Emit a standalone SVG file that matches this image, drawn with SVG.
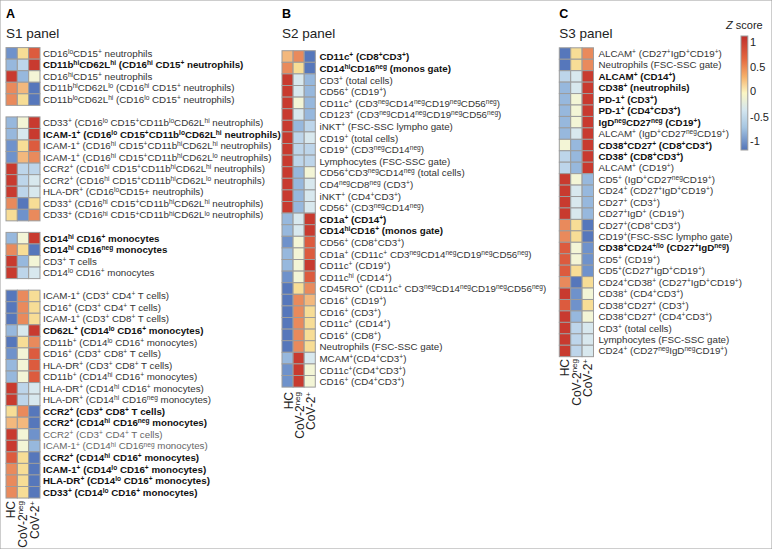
<svg xmlns="http://www.w3.org/2000/svg" width="772" height="549" viewBox="0 0 772 549">
<defs>
<style>
.t{font-family:"Liberation Sans",Arial,sans-serif;font-size:9.75px;fill:#333}
.bd{font-weight:bold;fill:#111}
.gr{fill:#666}
.u{font-size:6.6px;baseline-shift:3.3px}
.ttl{font-family:"Liberation Sans",Arial,sans-serif;font-size:12.5px;font-weight:bold;fill:#000}
.pn{font-family:"Liberation Sans",Arial,sans-serif;font-size:13.5px;fill:#222}
.cl{font-family:"Liberation Sans",Arial,sans-serif;font-size:12px;fill:#222}
.cu{font-size:8px;baseline-shift:4.5px}
.zl{font-family:"Liberation Sans",Arial,sans-serif;font-size:11px;fill:#222}
rect{stroke:#9c9c9c;stroke-width:1}
.r5{fill:#c83a2f}.r4{fill:#dc5b3e}.r3{fill:#e98a5c}.r2{fill:#f3b87d}.r1{fill:#f7dd96}
.n0{fill:#f3f5d6}.b1{fill:#d8e8ee}.b2{fill:#bdd5ea}.b3{fill:#97b8dd}.b4{fill:#6f92cb}.b5{fill:#5677bb}
</style>
<linearGradient id="zg" x1="0" y1="0" x2="0" y2="1">
<stop offset="0" stop-color="#bf2f2c"/>
<stop offset="0.2" stop-color="#e4673f"/>
<stop offset="0.36" stop-color="#f6b26b"/>
<stop offset="0.5" stop-color="#fbf6c4"/>
<stop offset="0.65" stop-color="#d4e6ef"/>
<stop offset="0.8" stop-color="#a6c6e2"/>
<stop offset="1" stop-color="#5374b8"/>
</linearGradient>
</defs>
<rect x="0" y="0" width="772" height="549" fill="#fff" stroke="none"/>

<g id="panelA">
<text class="ttl" x="6" y="18">A</text>
<text class="pn" x="6" y="37.5">S1 panel</text>
<g transform="translate(0,47.6)"><rect x="6" width="11.33" height="11.55" class="b4"/><rect x="17.33" width="11.33" height="11.55" class="r1"/><rect x="28.66" width="11.33" height="11.55" class="r4"/><text class="t" x="43" y="9.2">CD16<tspan class="u">lo</tspan>CD15<tspan class="u">+</tspan> neutrophils</text></g>
<g transform="translate(0,59.15)"><rect x="6" width="11.33" height="11.55" class="b3"/><rect x="17.33" width="11.33" height="11.55" class="b2"/><rect x="28.66" width="11.33" height="11.55" class="r5"/><text class="t bd" x="43" y="9.2">CD11b<tspan class="u">hi</tspan>CD62L<tspan class="u">hi</tspan> (CD16<tspan class="u">hi</tspan> CD15<tspan class="u">+</tspan> neutrophils)</text></g>
<g transform="translate(0,70.7)"><rect x="6" width="11.33" height="11.55" class="r5"/><rect x="17.33" width="11.33" height="11.55" class="b3"/><rect x="28.66" width="11.33" height="11.55" class="n0"/><text class="t" x="43" y="9.2">CD16<tspan class="u">hi</tspan>CD15<tspan class="u">+</tspan> neutrophils</text></g>
<g transform="translate(0,82.25)"><rect x="6" width="11.33" height="11.55" class="r3"/><rect x="17.33" width="11.33" height="11.55" class="r2"/><rect x="28.66" width="11.33" height="11.55" class="b5"/><text class="t" x="43" y="9.2">CD11b<tspan class="u">hi</tspan>CD62L<tspan class="u">lo</tspan> (CD16<tspan class="u">hi</tspan> CD15<tspan class="u">+</tspan> neutrophils)</text></g>
<g transform="translate(0,93.8)"><rect x="6" width="11.33" height="11.55" class="r3"/><rect x="17.33" width="11.33" height="11.55" class="r1"/><rect x="28.66" width="11.33" height="11.55" class="b5"/><text class="t" x="43" y="9.2">CD11b<tspan class="u">lo</tspan>CD62L<tspan class="u">hi</tspan> (CD16<tspan class="u">lo</tspan> CD15<tspan class="u">+</tspan> neutrophils)</text></g>

<g transform="translate(0,116.9)"><rect x="6" width="11.33" height="11.55" class="b3"/><rect x="17.33" width="11.33" height="11.55" class="n0"/><rect x="28.66" width="11.33" height="11.55" class="r5"/><text class="t" x="43" y="9.2">CD33<tspan class="u">+</tspan> (CD16<tspan class="u">lo</tspan> CD15<tspan class="u">+</tspan>CD11b<tspan class="u">lo</tspan>CD62L<tspan class="u">hi</tspan> neutrophils)</text></g>
<g transform="translate(0,128.45)"><rect x="6" width="11.33" height="11.55" class="b3"/><rect x="17.33" width="11.33" height="11.55" class="b1"/><rect x="28.66" width="11.33" height="11.55" class="r5"/><text class="t bd" x="43" y="9.2">ICAM-1<tspan class="u">+</tspan> (CD16<tspan class="u">lo</tspan> CD15<tspan class="u">+</tspan>CD11b<tspan class="u">lo</tspan>CD62L<tspan class="u">hi</tspan> neutrophils)</text></g>
<g transform="translate(0,140)"><rect x="6" width="11.33" height="11.55" class="b4"/><rect x="17.33" width="11.33" height="11.55" class="r1"/><rect x="28.66" width="11.33" height="11.55" class="r4"/><text class="t" x="43" y="9.2">ICAM-1<tspan class="u">+</tspan> (CD16<tspan class="u">hi</tspan> CD15<tspan class="u">+</tspan>CD11b<tspan class="u">hi</tspan>CD62L<tspan class="u">hi</tspan> neutrophils)</text></g>
<g transform="translate(0,151.55)"><rect x="6" width="11.33" height="11.55" class="b4"/><rect x="17.33" width="11.33" height="11.55" class="r2"/><rect x="28.66" width="11.33" height="11.55" class="r3"/><text class="t" x="43" y="9.2">ICAM-1<tspan class="u">+</tspan> (CD16<tspan class="u">hi</tspan> CD15<tspan class="u">+</tspan>CD11b<tspan class="u">hi</tspan>CD62L<tspan class="u">lo</tspan> neutrophils)</text></g>
<g transform="translate(0,163.1)"><rect x="6" width="11.33" height="11.55" class="r5"/><rect x="17.33" width="11.33" height="11.55" class="b2"/><rect x="28.66" width="11.33" height="11.55" class="b2"/><text class="t" x="43" y="9.2">CCR2<tspan class="u">+</tspan> (CD16<tspan class="u">hi</tspan> CD15<tspan class="u">+</tspan>CD11b<tspan class="u">hi</tspan>CD62L<tspan class="u">hi</tspan> neutrophils)</text></g>
<g transform="translate(0,174.65)"><rect x="6" width="11.33" height="11.55" class="r5"/><rect x="17.33" width="11.33" height="11.55" class="b2"/><rect x="28.66" width="11.33" height="11.55" class="b1"/><text class="t" x="43" y="9.2">CCR2<tspan class="u">+</tspan> (CD16<tspan class="u">hi</tspan> CD15<tspan class="u">+</tspan>CD11b<tspan class="u">hi</tspan>CD62L<tspan class="u">lo</tspan> neutrophils)</text></g>
<g transform="translate(0,186.2)"><rect x="6" width="11.33" height="11.55" class="r5"/><rect x="17.33" width="11.33" height="11.55" class="b2"/><rect x="28.66" width="11.33" height="11.55" class="b1"/><text class="t" x="43" y="9.2">HLA-DR<tspan class="u">+</tspan> (CD16<tspan class="u">lo</tspan>CD15+ neutrophils)</text></g>
<g transform="translate(0,197.75)"><rect x="6" width="11.33" height="11.55" class="r3"/><rect x="17.33" width="11.33" height="11.55" class="b5"/><rect x="28.66" width="11.33" height="11.55" class="r1"/><text class="t" x="43" y="9.2">CD33<tspan class="u">+</tspan> (CD16<tspan class="u">hi</tspan> CD15<tspan class="u">+</tspan>CD11b<tspan class="u">hi</tspan>CD62L<tspan class="u">hi</tspan> neutrophils)</text></g>
<g transform="translate(0,209.3)"><rect x="6" width="11.33" height="11.55" class="r1"/><rect x="17.33" width="11.33" height="11.55" class="b4"/><rect x="28.66" width="11.33" height="11.55" class="r3"/><text class="t" x="43" y="9.2">CD33<tspan class="u">+</tspan> (CD16<tspan class="u">hi</tspan> CD15<tspan class="u">+</tspan>CD11b<tspan class="u">hi</tspan>CD62L<tspan class="u">lo</tspan> neutrophils)</text></g>

<g transform="translate(0,232.4)"><rect x="6" width="11.33" height="11.55" class="b3"/><rect x="17.33" width="11.33" height="11.55" class="n0"/><rect x="28.66" width="11.33" height="11.55" class="r5"/><text class="t bd" x="43" y="9.2">CD14<tspan class="u">hi</tspan> CD16<tspan class="u">+</tspan> monocytes</text></g>
<g transform="translate(0,243.95)"><rect x="6" width="11.33" height="11.55" class="r3"/><rect x="17.33" width="11.33" height="11.55" class="r1"/><rect x="28.66" width="11.33" height="11.55" class="b5"/><text class="t bd" x="43" y="9.2">CD14<tspan class="u">hi</tspan> CD16<tspan class="u">neg</tspan> monocytes</text></g>
<g transform="translate(0,255.5)"><rect x="6" width="11.33" height="11.55" class="r5"/><rect x="17.33" width="11.33" height="11.55" class="b3"/><rect x="28.66" width="11.33" height="11.55" class="n0"/><text class="t" x="43" y="9.2">CD3<tspan class="u">+</tspan> T cells</text></g>
<g transform="translate(0,267.05)"><rect x="6" width="11.33" height="11.55" class="r5"/><rect x="17.33" width="11.33" height="11.55" class="b2"/><rect x="28.66" width="11.33" height="11.55" class="b1"/><text class="t" x="43" y="9.2">CD14<tspan class="u">lo</tspan> CD16<tspan class="u">+</tspan> monocytes</text></g>

<g transform="translate(0,290.15)"><rect x="6" width="11.33" height="11.55" class="b5"/><rect x="17.33" width="11.33" height="11.55" class="r3"/><rect x="28.66" width="11.33" height="11.55" class="r1"/><text class="t" x="43" y="9.2">ICAM-1<tspan class="u">+</tspan> (CD3<tspan class="u">+</tspan> CD4<tspan class="u">+</tspan> T cells)</text></g>
<g transform="translate(0,301.7)"><rect x="6" width="11.33" height="11.55" class="b5"/><rect x="17.33" width="11.33" height="11.55" class="r3"/><rect x="28.66" width="11.33" height="11.55" class="r1"/><text class="t" x="43" y="9.2">CD16<tspan class="u">+</tspan> (CD3<tspan class="u">+</tspan> CD4<tspan class="u">+</tspan> T cells)</text></g>
<g transform="translate(0,313.25)"><rect x="6" width="11.33" height="11.55" class="b5"/><rect x="17.33" width="11.33" height="11.55" class="r3"/><rect x="28.66" width="11.33" height="11.55" class="r1"/><text class="t" x="43" y="9.2">ICAM-1<tspan class="u">+</tspan> (CD3<tspan class="u">+</tspan> CD8<tspan class="u">+</tspan> T cells)</text></g>
<g transform="translate(0,324.8)"><rect x="6" width="11.33" height="11.55" class="b3"/><rect x="17.33" width="11.33" height="11.55" class="b1"/><rect x="28.66" width="11.33" height="11.55" class="r5"/><text class="t bd" x="43" y="9.2">CD62L<tspan class="u">+</tspan> (CD14<tspan class="u">lo</tspan> CD16<tspan class="u">+</tspan> monocytes)</text></g>
<g transform="translate(0,336.35)"><rect x="6" width="11.33" height="11.55" class="b5"/><rect x="17.33" width="11.33" height="11.55" class="r1"/><rect x="28.66" width="11.33" height="11.55" class="r3"/><text class="t" x="43" y="9.2">CD11b<tspan class="u">+</tspan> (CD14<tspan class="u">lo</tspan> CD16<tspan class="u">+</tspan> monocytes)</text></g>
<g transform="translate(0,347.9)"><rect x="6" width="11.33" height="11.55" class="b4"/><rect x="17.33" width="11.33" height="11.55" class="n0"/><rect x="28.66" width="11.33" height="11.55" class="r4"/><text class="t" x="43" y="9.2">CD16<tspan class="u">+</tspan> (CD3<tspan class="u">+</tspan> CD8<tspan class="u">+</tspan> T cells)</text></g>
<g transform="translate(0,359.45)"><rect x="6" width="11.33" height="11.55" class="b3"/><rect x="17.33" width="11.33" height="11.55" class="n0"/><rect x="28.66" width="11.33" height="11.55" class="r4"/><text class="t" x="43" y="9.2">HLA-DR<tspan class="u">+</tspan> (CD3<tspan class="u">+</tspan> CD8<tspan class="u">+</tspan> T cells)</text></g>
<g transform="translate(0,371)"><rect x="6" width="11.33" height="11.55" class="b3"/><rect x="17.33" width="11.33" height="11.55" class="n0"/><rect x="28.66" width="11.33" height="11.55" class="r4"/><text class="t" x="43" y="9.2">CD11b<tspan class="u">+</tspan> (CD14<tspan class="u">hi</tspan> CD16<tspan class="u">+</tspan> monocytes)</text></g>
<g transform="translate(0,382.55)"><rect x="6" width="11.33" height="11.55" class="r5"/><rect x="17.33" width="11.33" height="11.55" class="b2"/><rect x="28.66" width="11.33" height="11.55" class="b1"/><text class="t" x="43" y="9.2">HLA-DR<tspan class="u">+</tspan> (CD14<tspan class="u">hi</tspan> CD16<tspan class="u">+</tspan> monocytes)</text></g>
<g transform="translate(0,394.1)"><rect x="6" width="11.33" height="11.55" class="r5"/><rect x="17.33" width="11.33" height="11.55" class="b2"/><rect x="28.66" width="11.33" height="11.55" class="b1"/><text class="t" x="43" y="9.2">HLA-DR<tspan class="u">+</tspan> (CD14<tspan class="u">hi</tspan> CD16<tspan class="u">neg</tspan> monocytes)</text></g>
<g transform="translate(0,405.65)"><rect x="6" width="11.33" height="11.55" class="r1"/><rect x="17.33" width="11.33" height="11.55" class="r3"/><rect x="28.66" width="11.33" height="11.55" class="b5"/><text class="t bd" x="43" y="9.2">CCR2<tspan class="u">+</tspan> (CD3<tspan class="u">+</tspan> CD8<tspan class="u">+</tspan> T cells)</text></g>
<g transform="translate(0,417.2)"><rect x="6" width="11.33" height="11.55" class="r2"/><rect x="17.33" width="11.33" height="11.55" class="r2"/><rect x="28.66" width="11.33" height="11.55" class="b5"/><text class="t bd" x="43" y="9.2">CCR2<tspan class="u">+</tspan> (CD14<tspan class="u">hi</tspan> CD16<tspan class="u">neg</tspan> monocytes)</text></g>
<g transform="translate(0,428.75)"><rect x="6" width="11.33" height="11.55" class="r5"/><rect x="17.33" width="11.33" height="11.55" class="n0"/><rect x="28.66" width="11.33" height="11.55" class="b4"/><text class="t gr" x="43" y="9.2">CCR2<tspan class="u">+</tspan> (CD3<tspan class="u">+</tspan> CD4<tspan class="u">+</tspan> T cells)</text></g>
<g transform="translate(0,440.3)"><rect x="6" width="11.33" height="11.55" class="r5"/><rect x="17.33" width="11.33" height="11.55" class="n0"/><rect x="28.66" width="11.33" height="11.55" class="b3"/><text class="t gr" x="43" y="9.2">ICAM-1<tspan class="u">+</tspan> (CD14<tspan class="u">hi</tspan> CD16<tspan class="u">neg</tspan> monocytes)</text></g>
<g transform="translate(0,451.85)"><rect x="6" width="11.33" height="11.55" class="r4"/><rect x="17.33" width="11.33" height="11.55" class="r1"/><rect x="28.66" width="11.33" height="11.55" class="b5"/><text class="t bd" x="43" y="9.2">CCR2<tspan class="u">+</tspan> (CD14<tspan class="u">hi</tspan> CD16<tspan class="u">+</tspan> monocytes)</text></g>
<g transform="translate(0,463.4)"><rect x="6" width="11.33" height="11.55" class="r3"/><rect x="17.33" width="11.33" height="11.55" class="r1"/><rect x="28.66" width="11.33" height="11.55" class="b5"/><text class="t bd" x="43" y="9.2">ICAM-1<tspan class="u">+</tspan> (CD14<tspan class="u">lo</tspan> CD16<tspan class="u">+</tspan> monocytes)</text></g>
<g transform="translate(0,474.95)"><rect x="6" width="11.33" height="11.55" class="r3"/><rect x="17.33" width="11.33" height="11.55" class="r1"/><rect x="28.66" width="11.33" height="11.55" class="b5"/><text class="t bd" x="43" y="9.2">HLA-DR<tspan class="u">+</tspan> (CD14<tspan class="u">lo</tspan> CD16<tspan class="u">+</tspan> monocytes)</text></g>
<g transform="translate(0,486.5)"><rect x="6" width="11.33" height="11.55" class="r3"/><rect x="17.33" width="11.33" height="11.55" class="r1"/><rect x="28.66" width="11.33" height="11.55" class="b5"/><text class="t bd" x="43" y="9.2">CD33<tspan class="u">+</tspan> (CD14<tspan class="u">lo</tspan> CD16<tspan class="u">+</tspan> monocytes)</text></g>
<text class="cl" text-anchor="end" transform="translate(15.3,501) rotate(-90)">HC</text>
<text class="cl" text-anchor="end" transform="translate(26.8,501) rotate(-90)">CoV-2<tspan class="cu">neg</tspan></text>
<text class="cl" text-anchor="end" transform="translate(38.6,501) rotate(-90)">CoV-2<tspan class="cu">+</tspan></text>
</g>

<g id="panelB">
<text class="ttl" x="282" y="18">B</text>
<text class="pn" x="282" y="37.5">S2 panel</text>
<g transform="translate(0,50.7)"><rect x="282" width="11.1" height="11.6" class="r2"/><rect x="293.1" width="11.1" height="11.6" class="r3"/><rect x="304.2" width="11.1" height="11.6" class="b5"/><text class="t bd" x="319.5" y="9.8">CD11c<tspan class="u">+</tspan> (CD8<tspan class="u">+</tspan>CD3<tspan class="u">+</tspan>)</text></g>
<g transform="translate(0,62.3)"><rect x="282" width="11.1" height="11.6" class="r3"/><rect x="293.1" width="11.1" height="11.6" class="r1"/><rect x="304.2" width="11.1" height="11.6" class="b5"/><text class="t bd" x="319.5" y="9.8">CD14<tspan class="u">hi</tspan>CD16<tspan class="u">neg</tspan> (monos gate)</text></g>
<g transform="translate(0,73.9)"><rect x="282" width="11.1" height="11.6" class="r5"/><rect x="293.1" width="11.1" height="11.6" class="b1"/><rect x="304.2" width="11.1" height="11.6" class="b3"/><text class="t" x="319.5" y="9.8">CD3<tspan class="u">+</tspan> (total cells)</text></g>
<g transform="translate(0,85.5)"><rect x="282" width="11.1" height="11.6" class="r5"/><rect x="293.1" width="11.1" height="11.6" class="b1"/><rect x="304.2" width="11.1" height="11.6" class="b3"/><text class="t" x="319.5" y="9.8">CD56<tspan class="u">+</tspan> (CD19<tspan class="u">+</tspan>)</text></g>
<g transform="translate(0,97.1)"><rect x="282" width="11.1" height="11.6" class="r5"/><rect x="293.1" width="11.1" height="11.6" class="n0"/><rect x="304.2" width="11.1" height="11.6" class="b3"/><text class="t" x="319.5" y="9.8">CD11c<tspan class="u">+</tspan> (CD3<tspan class="u">neg</tspan>CD14<tspan class="u">neg</tspan>CD19<tspan class="u">neg</tspan>CD56<tspan class="u">neg</tspan>)</text></g>
<g transform="translate(0,108.7)"><rect x="282" width="11.1" height="11.6" class="r5"/><rect x="293.1" width="11.1" height="11.6" class="b1"/><rect x="304.2" width="11.1" height="11.6" class="b3"/><text class="t" x="319.5" y="9.8">CD123<tspan class="u">+</tspan> (CD3<tspan class="u">neg</tspan>CD14<tspan class="u">neg</tspan>CD19<tspan class="u">neg</tspan>CD56<tspan class="u">neg</tspan>)</text></g>
<g transform="translate(0,120.3)"><rect x="282" width="11.1" height="11.6" class="r5"/><rect x="293.1" width="11.1" height="11.6" class="b3"/><rect x="304.2" width="11.1" height="11.6" class="b2"/><text class="t" x="319.5" y="9.8">iNKT<tspan class="u">+</tspan> (FSC-SSC lympho gate)</text></g>
<g transform="translate(0,131.9)"><rect x="282" width="11.1" height="11.6" class="r5"/><rect x="293.1" width="11.1" height="11.6" class="b2"/><rect x="304.2" width="11.1" height="11.6" class="b1"/><text class="t" x="319.5" y="9.8">CD19<tspan class="u">+</tspan> (total cells)</text></g>
<g transform="translate(0,143.5)"><rect x="282" width="11.1" height="11.6" class="r5"/><rect x="293.1" width="11.1" height="11.6" class="b2"/><rect x="304.2" width="11.1" height="11.6" class="b2"/><text class="t" x="319.5" y="9.8">CD19<tspan class="u">+</tspan> (CD3<tspan class="u">neg</tspan>CD14<tspan class="u">neg</tspan>)</text></g>
<g transform="translate(0,155.1)"><rect x="282" width="11.1" height="11.6" class="r5"/><rect x="293.1" width="11.1" height="11.6" class="b2"/><rect x="304.2" width="11.1" height="11.6" class="b2"/><text class="t" x="319.5" y="9.8">Lymphocytes (FSC-SSC gate)</text></g>
<g transform="translate(0,166.7)"><rect x="282" width="11.1" height="11.6" class="r5"/><rect x="293.1" width="11.1" height="11.6" class="b3"/><rect x="304.2" width="11.1" height="11.6" class="n0"/><text class="t" x="319.5" y="9.8">CD56<tspan class="u">+</tspan>CD3<tspan class="u">neg</tspan>CD14<tspan class="u">neg</tspan> (total cells)</text></g>
<g transform="translate(0,178.3)"><rect x="282" width="11.1" height="11.6" class="r5"/><rect x="293.1" width="11.1" height="11.6" class="b3"/><rect x="304.2" width="11.1" height="11.6" class="b1"/><text class="t" x="319.5" y="9.8">CD4<tspan class="u">neg</tspan>CD8<tspan class="u">neg</tspan> (CD3<tspan class="u">+</tspan>)</text></g>
<g transform="translate(0,189.9)"><rect x="282" width="11.1" height="11.6" class="r5"/><rect x="293.1" width="11.1" height="11.6" class="b3"/><rect x="304.2" width="11.1" height="11.6" class="b1"/><text class="t" x="319.5" y="9.8">iNKT<tspan class="u">+</tspan> (CD4<tspan class="u">+</tspan>CD3<tspan class="u">+</tspan>)</text></g>
<g transform="translate(0,201.5)"><rect x="282" width="11.1" height="11.6" class="r5"/><rect x="293.1" width="11.1" height="11.6" class="b3"/><rect x="304.2" width="11.1" height="11.6" class="b1"/><text class="t" x="319.5" y="9.8">CD56<tspan class="u">+</tspan> (CD3<tspan class="u">neg</tspan>CD14<tspan class="u">neg</tspan>)</text></g>
<g transform="translate(0,213.1)"><rect x="282" width="11.1" height="11.6" class="b3"/><rect x="293.1" width="11.1" height="11.6" class="b1"/><rect x="304.2" width="11.1" height="11.6" class="r5"/><text class="t bd" x="319.5" y="9.8">CD1a<tspan class="u">+</tspan> (CD14<tspan class="u">+</tspan>)</text></g>
<g transform="translate(0,224.7)"><rect x="282" width="11.1" height="11.6" class="b3"/><rect x="293.1" width="11.1" height="11.6" class="b1"/><rect x="304.2" width="11.1" height="11.6" class="r5"/><text class="t bd" x="319.5" y="9.8">CD14<tspan class="u">hi</tspan>CD16<tspan class="u">+</tspan> (monos gate)</text></g>
<g transform="translate(0,236.3)"><rect x="282" width="11.1" height="11.6" class="b4"/><rect x="293.1" width="11.1" height="11.6" class="n0"/><rect x="304.2" width="11.1" height="11.6" class="r4"/><text class="t" x="319.5" y="9.8">CD56<tspan class="u">+</tspan> (CD8<tspan class="u">+</tspan>CD3<tspan class="u">+</tspan>)</text></g>
<g transform="translate(0,247.9)"><rect x="282" width="11.1" height="11.6" class="b3"/><rect x="293.1" width="11.1" height="11.6" class="n0"/><rect x="304.2" width="11.1" height="11.6" class="r4"/><text class="t" x="319.5" y="9.8">CD1a<tspan class="u">+</tspan> (CD11c<tspan class="u">+</tspan> CD3<tspan class="u">neg</tspan>CD14<tspan class="u">neg</tspan>CD19<tspan class="u">neg</tspan>CD56<tspan class="u">neg</tspan>)</text></g>
<g transform="translate(0,259.5)"><rect x="282" width="11.1" height="11.6" class="b3"/><rect x="293.1" width="11.1" height="11.6" class="n0"/><rect x="304.2" width="11.1" height="11.6" class="r5"/><text class="t" x="319.5" y="9.8">CD11c<tspan class="u">+</tspan> (CD19<tspan class="u">+</tspan>)</text></g>
<g transform="translate(0,271.1)"><rect x="282" width="11.1" height="11.6" class="b4"/><rect x="293.1" width="11.1" height="11.6" class="n0"/><rect x="304.2" width="11.1" height="11.6" class="r4"/><text class="t" x="319.5" y="9.8">CD11c<tspan class="u">hi</tspan> (CD14<tspan class="u">+</tspan>)</text></g>
<g transform="translate(0,282.7)"><rect x="282" width="11.1" height="11.6" class="b5"/><rect x="293.1" width="11.1" height="11.6" class="r1"/><rect x="304.2" width="11.1" height="11.6" class="r3"/><text class="t" x="319.5" y="9.8">CD45RO<tspan class="u">+</tspan> (CD11c<tspan class="u">+</tspan> CD3<tspan class="u">neg</tspan>CD14<tspan class="u">neg</tspan>CD19<tspan class="u">neg</tspan>CD56<tspan class="u">neg</tspan>)</text></g>
<g transform="translate(0,294.3)"><rect x="282" width="11.1" height="11.6" class="b5"/><rect x="293.1" width="11.1" height="11.6" class="r3"/><rect x="304.2" width="11.1" height="11.6" class="r2"/><text class="t" x="319.5" y="9.8">CD16<tspan class="u">+</tspan> (CD19<tspan class="u">+</tspan>)</text></g>
<g transform="translate(0,305.9)"><rect x="282" width="11.1" height="11.6" class="b5"/><rect x="293.1" width="11.1" height="11.6" class="r3"/><rect x="304.2" width="11.1" height="11.6" class="r1"/><text class="t" x="319.5" y="9.8">CD16<tspan class="u">+</tspan> (CD3<tspan class="u">+</tspan>)</text></g>
<g transform="translate(0,317.5)"><rect x="282" width="11.1" height="11.6" class="b5"/><rect x="293.1" width="11.1" height="11.6" class="r3"/><rect x="304.2" width="11.1" height="11.6" class="r1"/><text class="t" x="319.5" y="9.8">CD11c<tspan class="u">+</tspan> (CD14<tspan class="u">+</tspan>)</text></g>
<g transform="translate(0,329.1)"><rect x="282" width="11.1" height="11.6" class="b5"/><rect x="293.1" width="11.1" height="11.6" class="r3"/><rect x="304.2" width="11.1" height="11.6" class="r1"/><text class="t" x="319.5" y="9.8">CD16<tspan class="u">+</tspan> (CD8<tspan class="u">+</tspan>)</text></g>
<g transform="translate(0,340.7)"><rect x="282" width="11.1" height="11.6" class="b5"/><rect x="293.1" width="11.1" height="11.6" class="r3"/><rect x="304.2" width="11.1" height="11.6" class="r1"/><text class="t" x="319.5" y="9.8">Neutrophils (FSC-SSC gate)</text></g>
<g transform="translate(0,352.3)"><rect x="282" width="11.1" height="11.6" class="b3"/><rect x="293.1" width="11.1" height="11.6" class="r5"/><rect x="304.2" width="11.1" height="11.6" class="b1"/><text class="t" x="319.5" y="9.8">MCAM<tspan class="u">+</tspan>(CD4<tspan class="u">+</tspan>CD3<tspan class="u">+</tspan>)</text></g>
<g transform="translate(0,363.9)"><rect x="282" width="11.1" height="11.6" class="b4"/><rect x="293.1" width="11.1" height="11.6" class="r5"/><rect x="304.2" width="11.1" height="11.6" class="n0"/><text class="t" x="319.5" y="9.8">CD11c<tspan class="u">+</tspan>(CD4<tspan class="u">+</tspan>CD3<tspan class="u">+</tspan>)</text></g>
<g transform="translate(0,375.5)"><rect x="282" width="11.1" height="11.6" class="b4"/><rect x="293.1" width="11.1" height="11.6" class="r5"/><rect x="304.2" width="11.1" height="11.6" class="n0"/><text class="t" x="319.5" y="9.8">CD16<tspan class="u">+</tspan> (CD4<tspan class="u">+</tspan>CD3<tspan class="u">+</tspan>)</text></g>
<text class="cl" text-anchor="end" transform="translate(292.5,392) rotate(-90)">HC</text>
<text class="cl" text-anchor="end" transform="translate(304,392) rotate(-90)">CoV-2<tspan class="cu">neg</tspan></text>
<text class="cl" text-anchor="end" transform="translate(315,392) rotate(-90)">CoV-2<tspan class="cu">+</tspan></text>
</g>

<g id="panelC">
<text class="ttl" x="559.3" y="18">C</text>
<text class="pn" x="559.3" y="37.5">S3 panel</text>
<g transform="translate(0,47.8)"><rect x="559.3" width="11.4" height="11.44" class="b5"/><rect x="570.7" width="11.4" height="11.44" class="r1"/><rect x="582.1" width="11.4" height="11.44" class="r3"/><text class="t" x="598.5" y="9.2">ALCAM<tspan class="u">+</tspan> (CD27<tspan class="u">+</tspan>IgD<tspan class="u">+</tspan>CD19<tspan class="u">+</tspan>)</text></g>
<g transform="translate(0,59.24)"><rect x="559.3" width="11.4" height="11.44" class="b5"/><rect x="570.7" width="11.4" height="11.44" class="r1"/><rect x="582.1" width="11.4" height="11.44" class="r3"/><text class="t" x="598.5" y="9.2">Neutrophils (FSC-SSC gate)</text></g>
<g transform="translate(0,70.68)"><rect x="559.3" width="11.4" height="11.44" class="b2"/><rect x="570.7" width="11.4" height="11.44" class="b1"/><rect x="582.1" width="11.4" height="11.44" class="r5"/><text class="t bd" x="598.5" y="9.2">ALCAM<tspan class="u">+</tspan> (CD14<tspan class="u">+</tspan>)</text></g>
<g transform="translate(0,82.12)"><rect x="559.3" width="11.4" height="11.44" class="b3"/><rect x="570.7" width="11.4" height="11.44" class="b1"/><rect x="582.1" width="11.4" height="11.44" class="r5"/><text class="t bd" x="598.5" y="9.2">CD38<tspan class="u">+</tspan> (neutrophils)</text></g>
<g transform="translate(0,93.56)"><rect x="559.3" width="11.4" height="11.44" class="b3"/><rect x="570.7" width="11.4" height="11.44" class="n0"/><rect x="582.1" width="11.4" height="11.44" class="r5"/><text class="t bd" x="598.5" y="9.2">PD-1<tspan class="u">+</tspan> (CD3<tspan class="u">+</tspan>)</text></g>
<g transform="translate(0,105)"><rect x="559.3" width="11.4" height="11.44" class="b3"/><rect x="570.7" width="11.4" height="11.44" class="n0"/><rect x="582.1" width="11.4" height="11.44" class="r5"/><text class="t bd" x="598.5" y="9.2">PD-1<tspan class="u">+</tspan> (CD4<tspan class="u">+</tspan>CD3<tspan class="u">+</tspan>)</text></g>
<g transform="translate(0,116.44)"><rect x="559.3" width="11.4" height="11.44" class="b3"/><rect x="570.7" width="11.4" height="11.44" class="n0"/><rect x="582.1" width="11.4" height="11.44" class="r5"/><text class="t bd" x="598.5" y="9.2">IgD<tspan class="u">neg</tspan>CD27<tspan class="u">neg</tspan> (CD19<tspan class="u">+</tspan>)</text></g>
<g transform="translate(0,127.88)"><rect x="559.3" width="11.4" height="11.44" class="b3"/><rect x="570.7" width="11.4" height="11.44" class="b1"/><rect x="582.1" width="11.4" height="11.44" class="r5"/><text class="t" x="598.5" y="9.2">ALCAM<tspan class="u">+</tspan> (IgD<tspan class="u">+</tspan>CD27<tspan class="u">neg</tspan>CD19<tspan class="u">+</tspan>)</text></g>
<g transform="translate(0,139.32)"><rect x="559.3" width="11.4" height="11.44" class="n0"/><rect x="570.7" width="11.4" height="11.44" class="b3"/><rect x="582.1" width="11.4" height="11.44" class="r5"/><text class="t bd" x="598.5" y="9.2">CD38<tspan class="u">+</tspan>CD27<tspan class="u">+</tspan> (CD8<tspan class="u">+</tspan>CD3<tspan class="u">+</tspan>)</text></g>
<g transform="translate(0,150.76)"><rect x="559.3" width="11.4" height="11.44" class="b2"/><rect x="570.7" width="11.4" height="11.44" class="b3"/><rect x="582.1" width="11.4" height="11.44" class="r5"/><text class="t bd" x="598.5" y="9.2">CD38<tspan class="u">+</tspan> (CD8<tspan class="u">+</tspan>CD3<tspan class="u">+</tspan>)</text></g>
<g transform="translate(0,162.2)"><rect x="559.3" width="11.4" height="11.44" class="b2"/><rect x="570.7" width="11.4" height="11.44" class="b3"/><rect x="582.1" width="11.4" height="11.44" class="r5"/><text class="t" x="598.5" y="9.2">ALCAM<tspan class="u">+</tspan> (CD19<tspan class="u">+</tspan>)</text></g>
<g transform="translate(0,173.64)"><rect x="559.3" width="11.4" height="11.44" class="r5"/><rect x="570.7" width="11.4" height="11.44" class="n0"/><rect x="582.1" width="11.4" height="11.44" class="b3"/><text class="t" x="598.5" y="9.2">CD5<tspan class="u">+</tspan> (IgD<tspan class="u">+</tspan>CD27<tspan class="u">neg</tspan>CD19<tspan class="u">+</tspan>)</text></g>
<g transform="translate(0,185.08)"><rect x="559.3" width="11.4" height="11.44" class="r5"/><rect x="570.7" width="11.4" height="11.44" class="b1"/><rect x="582.1" width="11.4" height="11.44" class="b3"/><text class="t" x="598.5" y="9.2">CD24<tspan class="u">+</tspan> (CD27<tspan class="u">+</tspan>IgD<tspan class="u">+</tspan>CD19<tspan class="u">+</tspan>)</text></g>
<g transform="translate(0,196.52)"><rect x="559.3" width="11.4" height="11.44" class="r5"/><rect x="570.7" width="11.4" height="11.44" class="b1"/><rect x="582.1" width="11.4" height="11.44" class="b3"/><text class="t" x="598.5" y="9.2">CD27<tspan class="u">+</tspan> (CD3<tspan class="u">+</tspan>)</text></g>
<g transform="translate(0,207.96)"><rect x="559.3" width="11.4" height="11.44" class="r5"/><rect x="570.7" width="11.4" height="11.44" class="b1"/><rect x="582.1" width="11.4" height="11.44" class="b3"/><text class="t" x="598.5" y="9.2">CD27<tspan class="u">+</tspan>IgD<tspan class="u">+</tspan> (CD19<tspan class="u">+</tspan>)</text></g>
<g transform="translate(0,219.4)"><rect x="559.3" width="11.4" height="11.44" class="r3"/><rect x="570.7" width="11.4" height="11.44" class="r1"/><rect x="582.1" width="11.4" height="11.44" class="b5"/><text class="t" x="598.5" y="9.2">CD27<tspan class="u">+</tspan>(CD8<tspan class="u">+</tspan>CD3<tspan class="u">+</tspan>)</text></g>
<g transform="translate(0,230.84)"><rect x="559.3" width="11.4" height="11.44" class="r3"/><rect x="570.7" width="11.4" height="11.44" class="r1"/><rect x="582.1" width="11.4" height="11.44" class="b5"/><text class="t" x="598.5" y="9.2">CD19<tspan class="u">+</tspan>(FSC-SSC lympho gate)</text></g>
<g transform="translate(0,242.28)"><rect x="559.3" width="11.4" height="11.44" class="r4"/><rect x="570.7" width="11.4" height="11.44" class="n0"/><rect x="582.1" width="11.4" height="11.44" class="b4"/><text class="t bd" x="598.5" y="9.2">CD38<tspan class="u">+</tspan>CD24<tspan class="u">+/lo</tspan> (CD27<tspan class="u">+</tspan>IgD<tspan class="u">neg</tspan>)</text></g>
<g transform="translate(0,253.72)"><rect x="559.3" width="11.4" height="11.44" class="r4"/><rect x="570.7" width="11.4" height="11.44" class="n0"/><rect x="582.1" width="11.4" height="11.44" class="b4"/><text class="t" x="598.5" y="9.2">CD5<tspan class="u">+</tspan> (CD19<tspan class="u">+</tspan>)</text></g>
<g transform="translate(0,265.16)"><rect x="559.3" width="11.4" height="11.44" class="r4"/><rect x="570.7" width="11.4" height="11.44" class="r1"/><rect x="582.1" width="11.4" height="11.44" class="b4"/><text class="t" x="598.5" y="9.2">CD5<tspan class="u">+</tspan>(CD27<tspan class="u">+</tspan>IgD<tspan class="u">+</tspan>CD19<tspan class="u">+</tspan>)</text></g>
<g transform="translate(0,276.6)"><rect x="559.3" width="11.4" height="11.44" class="r3"/><rect x="570.7" width="11.4" height="11.44" class="b5"/><rect x="582.1" width="11.4" height="11.44" class="r1"/><text class="t" x="598.5" y="9.2">CD24<tspan class="u">+</tspan>CD38<tspan class="u">+</tspan> (CD27<tspan class="u">+</tspan>IgD<tspan class="u">+</tspan>CD19<tspan class="u">+</tspan>)</text></g>
<g transform="translate(0,288.04)"><rect x="559.3" width="11.4" height="11.44" class="r5"/><rect x="570.7" width="11.4" height="11.44" class="b4"/><rect x="582.1" width="11.4" height="11.44" class="n0"/><text class="t" x="598.5" y="9.2">CD38<tspan class="u">+</tspan> (CD4<tspan class="u">+</tspan>CD3<tspan class="u">+</tspan>)</text></g>
<g transform="translate(0,299.48)"><rect x="559.3" width="11.4" height="11.44" class="r4"/><rect x="570.7" width="11.4" height="11.44" class="b4"/><rect x="582.1" width="11.4" height="11.44" class="r1"/><text class="t" x="598.5" y="9.2">CD38<tspan class="u">+</tspan>CD27<tspan class="u">+</tspan> (CD3<tspan class="u">+</tspan>)</text></g>
<g transform="translate(0,310.92)"><rect x="559.3" width="11.4" height="11.44" class="r5"/><rect x="570.7" width="11.4" height="11.44" class="b3"/><rect x="582.1" width="11.4" height="11.44" class="n0"/><text class="t" x="598.5" y="9.2">CD38<tspan class="u">+</tspan>CD27<tspan class="u">+</tspan> (CD4<tspan class="u">+</tspan>CD3<tspan class="u">+</tspan>)</text></g>
<g transform="translate(0,322.36)"><rect x="559.3" width="11.4" height="11.44" class="r5"/><rect x="570.7" width="11.4" height="11.44" class="b2"/><rect x="582.1" width="11.4" height="11.44" class="b1"/><text class="t" x="598.5" y="9.2">CD3<tspan class="u">+</tspan> (total cells)</text></g>
<g transform="translate(0,333.8)"><rect x="559.3" width="11.4" height="11.44" class="r5"/><rect x="570.7" width="11.4" height="11.44" class="b2"/><rect x="582.1" width="11.4" height="11.44" class="b1"/><text class="t" x="598.5" y="9.2">Lymphocytes (FSC-SSC gate)</text></g>
<g transform="translate(0,345.24)"><rect x="559.3" width="11.4" height="11.44" class="r5"/><rect x="570.7" width="11.4" height="11.44" class="b2"/><rect x="582.1" width="11.4" height="11.44" class="b1"/><text class="t" x="598.5" y="9.2">CD24<tspan class="u">+</tspan> (CD27<tspan class="u">neg</tspan>IgD<tspan class="u">neg</tspan>CD19<tspan class="u">+</tspan>)</text></g>
<text class="cl" text-anchor="end" transform="translate(569,359) rotate(-90)">HC</text>
<text class="cl" text-anchor="end" transform="translate(580.8,359) rotate(-90)">CoV-2<tspan class="cu">neg</tspan></text>
<text class="cl" text-anchor="end" transform="translate(592.3,359) rotate(-90)">CoV-2<tspan class="cu">+</tspan></text>
</g>

<g id="colorbar">
<text class="zl" x="726" y="28.5"><tspan font-style="italic">Z</tspan> score</text>
<rect x="741" y="36" width="6.8" height="114" fill="url(#zg)" stroke="none"/>
<text class="zl" x="750" y="45.5">1</text>
<text class="zl" x="750" y="70.5">0.5</text>
<text class="zl" x="750" y="94.8">0</text>
<text class="zl" x="750" y="120.5">-0.5</text>
<text class="zl" x="750" y="144.5">-1</text>
</g>
</svg>
